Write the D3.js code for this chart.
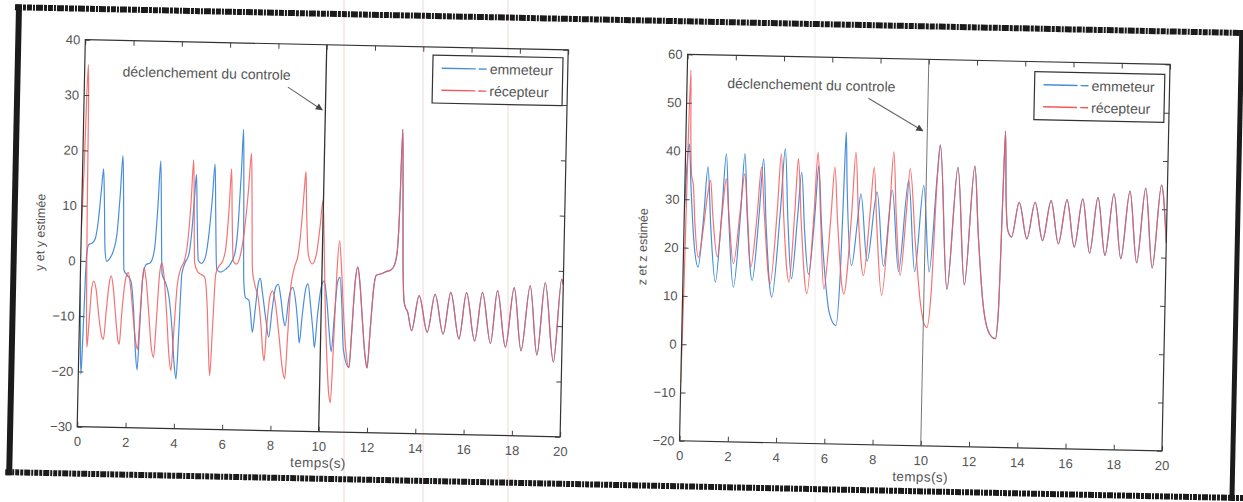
<!DOCTYPE html>
<html>
<head>
<meta charset="utf-8">
<script src="https://cdn.jsdelivr.net/npm/d3@7"></script>
<style>
  body { margin: 0; background: #fff; }
  svg { display: block; }
  text { font-family: "Liberation Sans", Arial, sans-serif; fill: #555; }
</style>
</head>
<body>
<svg id="fig" width="1243" height="502"></svg>
<script>
// ---- data ----
var timeTicks = [0, 2, 4, 6, 8, 10, 12, 14, 16, 18, 20];
var yTicks = [-30, -20, -10, 0, 10, 20, 30, 40];
var zTicks = [-20, -10, 0, 10, 20, 30, 40, 50, 60];
var legendLabels = ["emmeteur", "récepteur"];
var controlTime = 10;
var controlLabel = "déclenchement du controle";

// y : emitter before the two curves merge
var yEmitter = [[0,-4],[0.05,-13],[0.11,-20.5],[0.17,-11],[0.24,1],[0.32,3],[0.45,3.2],[0.58,4],[0.7,7.5],[0.8,13],[0.87,16.7],[0.93,11],[1,2],[1.08,0],[1.2,0.5],[1.35,2],[1.48,5],[1.58,12],[1.66,19.2],[1.72,12],[1.8,-1.5],[1.95,-2.5],[2.1,-3.5],[2.22,-8],[2.34,-16],[2.43,-19.5],[2.5,-12],[2.58,-3],[2.7,-0.5],[2.9,0],[3.05,2.5],[3.15,10],[3.23,18.4],[3.3,9],[3.38,-2],[3.52,-3.5],[3.68,-6],[3.84,-12],[3.96,-18.5],[4.05,-21],[4.12,-13],[4.2,-2],[4.32,0],[4.47,1.5],[4.58,6],[4.66,12],[4.72,16.1],[4.78,9],[4.87,0.5],[5,0],[5.15,1],[5.28,5],[5.4,12],[5.48,18],[5.55,9],[5.64,-1],[5.8,-1.5],[6,-1],[6.2,0],[6.38,2],[6.5,8],[6.58,17],[6.63,24.4],[6.69,14],[6.77,-3],[6.85,-6],[7,-6.5],[7.08,-9],[7.17,-12.3],[7.27,-8],[7.37,-3.5],[7.45,-2.5],[7.55,-5],[7.72,-10],[7.85,-13.1],[7.97,-8],[8.1,-4],[8.2,-3.5],[8.32,-6],[8.45,-10],[8.52,-11],[8.65,-6],[8.8,-4],[8.95,-7],[9.05,-11],[9.12,-14],[9.22,-9],[9.35,-4],[9.43,-3.3],[9.55,-7],[9.68,-12],[9.75,-14.8],[9.85,-9],[10,-3.5],[10.1,-2.7],[10.22,-6],[10.35,-12],[10.45,-15.5],[10.55,-9],[10.65,-3],[10.75,-2],[10.85,-7],[10.95,-15]];
// y : receiver before the merge
var yReceiver = [[0,5],[0.06,16],[0.11,30],[0.15,35.5],[0.19,28],[0.23,8],[0.28,-8],[0.33,-15.6],[0.4,-11],[0.48,-5],[0.56,-3.6],[0.66,-5],[0.8,-10],[0.93,-13.5],[1.01,-14.1],[1.1,-9],[1.2,-4],[1.28,-2.6],[1.38,-5],[1.52,-11],[1.62,-14.5],[1.67,-14.9],[1.75,-9],[1.88,-3],[1.98,-1.9],[2.1,-5],[2.25,-11],[2.37,-15],[2.43,-15.8],[2.5,-10],[2.58,-3],[2.63,-1],[2.72,-3],[2.88,-10],[3,-15.5],[3.1,-17.2],[3.18,-11],[3.28,-2],[3.36,0],[3.45,-2],[3.6,-9],[3.74,-17],[3.83,-19.5],[3.92,-12],[4.02,-4],[4.15,-1],[4.3,0.5],[4.42,4],[4.52,11],[4.59,18.7],[4.65,11],[4.72,0],[4.85,-1.5],[5,-2],[5.15,-2.5],[5.28,-8],[5.37,-16],[5.44,-20.3],[5.52,-11],[5.6,-2],[5.72,-0.5],[5.88,0.5],[6,3],[6.1,10],[6.17,17.2],[6.23,9],[6.32,0.5],[6.45,0],[6.6,1.5],[6.75,6],[6.88,13],[6.98,20.1],[7.04,12],[7.12,-1],[7.22,-3.5],[7.38,-6],[7.52,-11],[7.62,-16],[7.68,-17.4],[7.76,-11],[7.88,-5.5],[7.97,-4.7],[8.1,-7],[8.28,-13],[8.45,-19],[8.55,-20.6],[8.63,-13],[8.72,-4],[8.85,-0.5],[9,2],[9.12,8],[9.2,14],[9.25,17],[9.31,10],[9.42,2],[9.59,0.3],[9.75,2],[9.88,7],[9.98,11.8],[10.05,6],[10.15,-6],[10.28,-17],[10.38,-23],[10.46,-24.7],[10.54,-14],[10.62,-1],[10.7,4.6],[10.8,0],[10.92,-8],[11.05,-15]];
// y : both curves once synchronised
var ySynced = [[11.2,-18.3],[11.28,-12],[11.38,-3],[11.48,-0.1],[11.58,-3],[11.72,-10],[11.85,-16],[11.95,-18.3],[12.05,-11],[12.15,-4],[12.25,-1.5],[12.45,-1.2],[12.65,-0.8],[12.85,-0.5],[13,0.5],[13.1,3],[13.16,10],[13.22,25],[13.28,15],[13.34,2],[13.42,-6],[13.47,-7],[13.58,-8],[13.76,-11.4],[14.04,-5],[14.41,-11.6],[14.7,-4.7],[15.07,-11.9],[15.35,-4.3],[15.73,-12.7],[16,-4.3],[16.38,-13],[16.66,-4.2],[17.04,-13.4],[17.28,-3.8],[17.66,-14],[17.97,-3.2],[18.31,-14.6],[18.63,-2.8],[18.97,-15.3],[19.25,-2.2],[19.66,-16.5],[19.93,-1.5],[20,-2.5]];

// z : emitter before the merge
var zEmitter = [[0,28],[0.07,37],[0.15,41.5],[0.25,33],[0.45,20],[0.62,16],[0.8,26],[0.94,36.8],[1.1,25],[1.35,13],[1.55,27],[1.69,39.6],[1.85,26],[2.1,12],[2.33,27],[2.46,39.7],[2.62,26],[2.87,13.5],[3.1,27],[3.24,38.7],[3.4,25],[3.7,10.1],[3.98,28],[4.13,40.9],[4.3,26],[4.5,14],[4.7,27],[4.83,36.1],[5,24],[5.2,15],[5.42,28],[5.53,37.5],[5.7,25],[5.9,14],[6.1,7],[6.38,4.5],[6.52,16],[6.6,36],[6.64,44.6],[6.72,34],[6.98,17],[7.18,26],[7.3,31.9],[7.62,18],[7.97,32.3],[8.3,17],[8.6,32.8],[8.93,16],[9.27,34.9],[9.6,16],[9.9,33.9],[10.2,16],[10.45,36]];
// z : receiver before the merge
var zReceiver = [[0,-8],[0.05,12],[0.1,42],[0.15,56.7],[0.2,44],[0.27,35],[0.35,33],[0.45,25],[0.62,18],[0.8,24],[0.95,31],[1.06,34],[1.18,27],[1.41,18.2],[1.58,28],[1.71,34.4],[1.85,27],[2.08,16.9],[2.32,28],[2.47,35.5],[2.62,27],[2.8,16.2],[3.02,27],[3.16,37],[3.32,27],[3.62,12.9],[3.85,28],[3.97,39.8],[4.12,27],[4.4,13.3],[4.58,28],[4.68,38.9],[4.85,26],[5.15,11],[5.38,28],[5.49,40.3],[5.65,27],[5.85,12],[6.08,27],[6.2,37.3],[6.36,26],[6.68,11.1],[6.94,28],[7.06,40.5],[7.22,27],[7.48,15],[7.7,28],[7.83,37.5],[7.98,26],[8.25,11],[8.5,28],[8.63,40.7],[8.78,28],[9,15.2],[9.2,28],[9.32,37.3],[9.6,22],[9.85,10],[10.05,5],[10.15,4.5],[10.3,12],[10.45,35]];
// z : both curves once synchronised
var zSynced = [[10.55,42.3],[10.95,12.5],[11.3,37.8],[11.67,13.5],[12,38.1],[12.2,24],[12.45,10],[12.75,3.5],[13,2.5],[13.1,8],[13.18,30],[13.24,45.5],[13.32,32],[13.42,25],[13.58,23.6],[13.87,30.8],[14.22,23.3],[14.53,30.9],[14.87,23],[15.19,31.3],[15.53,22.4],[15.85,31.6],[16.19,21.8],[16.5,31.8],[16.83,20.6],[17.13,32.2],[17.47,20.2],[17.79,33],[18.13,19.6],[18.45,33.6],[18.79,18.8],[19.1,34.3],[19.44,17.8],[19.75,35],[20,23]];

// ---- drawing ----
var svg = d3.select("#fig");
var blue = "#4a8edb", red = "#f25a5a";
var font = '"Liberation Sans", Arial, sans-serif';

svg.append("defs").append("marker")
    .attr("id", "head")
    .attr("viewBox", "0 0 10 10")
    .attr("refX", 9).attr("refY", 5)
    .attr("markerWidth", 9).attr("markerHeight", 7)
    .attr("markerUnits", "userSpaceOnUse")
    .attr("orient", "auto")
  .append("path")
    .attr("d", "M0,0L10,5L0,10z")
    .attr("fill", "#444");

// faint scanner streaks (not tilted with the page)
[[344, "#f3d6d6"], [423, "#f3d6d6"], [508, "#f3d6d6"], [815, "#ececec"]].forEach(function(s) {
  svg.append("line")
    .attr("x1", s[0]).attr("x2", s[0]).attr("y1", 0).attr("y2", 502)
    .attr("stroke", s[1]).attr("stroke-width", 1);
});

// the scanned page is slightly tilted
var page = svg.append("g").attr("transform", "rotate(1.2,621,251)");

// thick scan border
var band = "#1b1b1b";
page.append("line").attr("x1", 10).attr("x2", 1260).attr("y1", 20).attr("y2", 20)
  .attr("stroke", band).attr("stroke-width", 6).attr("stroke-dasharray", "7,1,3,1,5,1,2,1");
page.append("line").attr("x1", 10).attr("x2", 1260).attr("y1", 485).attr("y2", 485)
  .attr("stroke", band).attr("stroke-width", 6).attr("stroke-dasharray", "6,1,2,1,4,1,3,1");
page.append("line").attr("x1", 14).attr("x2", 14).attr("y1", 17).attr("y2", 488)
  .attr("stroke", band).attr("stroke-width", 6);
page.append("line").attr("x1", 1237).attr("x2", 1237).attr("y1", 17).attr("y2", 488)
  .attr("stroke", band).attr("stroke-width", 5);

function drawPanel(cfg) {
  var g = page.append("g");

  var x = d3.scaleLinear().domain([0, 20]).range([cfg.left, cfg.right]);
  var y = d3.scaleLinear().domain(cfg.domain).range([cfg.bottom, cfg.top]);

  g.append("clipPath").attr("id", cfg.id)
    .append("rect")
      .attr("x", cfg.left).attr("y", cfg.top)
      .attr("width", cfg.right - cfg.left).attr("height", cfg.bottom - cfg.top);

  var line = d3.line()
    .x(function(d) { return x(d[0]); })
    .y(function(d) { return y(d[1]); })
    .curve(d3.curveMonotoneX);

  var plot = g.append("g").attr("clip-path", "url(#" + cfg.id + ")");

  plot.append("path")
    .attr("d", line(cfg.emitter.concat(cfg.synced)))
    .attr("fill", "none").attr("stroke", blue).attr("stroke-width", 1.2);

  plot.append("path")
    .attr("d", line(cfg.receiver.concat(cfg.synced)))
    .attr("fill", "none").attr("stroke", red).attr("stroke-width", 1.2)
    .attr("stroke-opacity", 0.85);

  // moment the control is switched on
  g.append("line")
    .attr("x1", x(controlTime)).attr("x2", x(controlTime))
    .attr("y1", cfg.top).attr("y2", cfg.bottom)
    .attr("stroke", cfg.controlColor).attr("stroke-width", cfg.controlWidth);

  // axes, MATLAB style: ticks inside, box all round
  var bottom = g.append("g")
    .attr("transform", "translate(0," + cfg.bottom + ")")
    .call(d3.axisBottom(x).tickValues(timeTicks).tickSizeInner(-5).tickSizeOuter(0).tickPadding(10));
  var left = g.append("g")
    .attr("transform", "translate(" + cfg.left + ",0)")
    .call(d3.axisLeft(y).tickValues(cfg.ticks).tickSizeInner(-5).tickSizeOuter(0).tickPadding(5));
  g.append("g")
    .attr("transform", "translate(0," + cfg.top + ")")
    .call(d3.axisTop(x).tickValues(timeTicks).tickSizeInner(-5).tickSizeOuter(0).tickFormat(""));
  g.append("g")
    .attr("transform", "translate(" + cfg.right + ",0)")
    .call(d3.axisRight(y).tickValues(cfg.ticks).tickSizeInner(-5).tickSizeOuter(0).tickFormat(""));

  g.selectAll(".domain").remove();
  g.selectAll(".tick line").attr("stroke", "#444");
  [bottom, left].forEach(function(a) {
    a.selectAll("text")
      .attr("font-family", font).attr("font-size", 13).attr("fill", "#555");
  });

  g.append("rect")
    .attr("x", cfg.left).attr("y", cfg.top)
    .attr("width", cfg.right - cfg.left).attr("height", cfg.bottom - cfg.top)
    .attr("fill", "none").attr("stroke", "#333").attr("stroke-width", 1.2);

  // axis titles
  g.append("text")
    .attr("x", (cfg.left + cfg.right) / 2).attr("y", cfg.bottom + 31)
    .attr("dy", "0.35em").attr("text-anchor", "middle")
    .attr("font-size", 13.5).attr("letter-spacing", 0.4)
    .text("temps(s)");

  g.append("text")
    .attr("transform", "translate(" + (cfg.left - 41) + "," + ((cfg.top + cfg.bottom) / 2) + ") rotate(-90)")
    .attr("dy", "0.35em").attr("text-anchor", "middle")
    .attr("font-size", 12.5)
    .text(cfg.yLabel);

  // annotation
  g.append("text")
    .attr("x", x(cfg.note[0])).attr("y", y(cfg.note[1]))
    .attr("dy", "0.35em")
    .attr("font-size", 14)
    .text(controlLabel);

  g.append("line")
    .attr("x1", x(cfg.arrow[0])).attr("y1", y(cfg.arrow[1]))
    .attr("x2", x(cfg.arrow[2])).attr("y2", y(cfg.arrow[3]))
    .attr("stroke", "#666").attr("stroke-width", 1.1)
    .attr("marker-end", "url(#head)");

  // legend
  var lg = g.append("g")
    .attr("transform", "translate(" + (cfg.right - 135) + "," + (cfg.top + cfg.legendTop) + ")");
  lg.append("rect")
    .attr("width", 130).attr("height", 48)
    .attr("fill", "#fff").attr("stroke", "#333").attr("stroke-width", 1.2);
  var rows = lg.selectAll(".row")
    .data(legendLabels)
    .enter().append("g")
      .attr("transform", function(d, i) { return "translate(0," + (13 + i * 22) + ")"; });
  rows.append("line")
    .attr("x1", 9).attr("x2", 54)
    .attr("stroke", function(d, i) { return i === 0 ? blue : red; })
    .attr("stroke-width", 1.4)
    .attr("stroke-dasharray", "34,3,8");
  rows.append("text")
    .attr("x", 57).attr("dy", "0.35em")
    .attr("font-size", 14)
    .text(function(d) { return d; });
}

drawPanel({
  id: "clipY", left: 81, right: 564, top: 51, bottom: 438,
  domain: [-30, 40], ticks: yTicks, yLabel: "y et y estimée",
  emitter: yEmitter, receiver: yReceiver, synced: ySynced,
  note: [1.57, 34.4], arrow: [8.43, 32.2, 9.87, 28.2],
  controlColor: "#333", controlWidth: 1.3, legendTop: 8
});

drawPanel({
  id: "clipZ", left: 683.5, right: 1166, top: 53, bottom: 439.5,
  domain: [-20, 60], ticks: zTicks, yLabel: "z et z estimée",
  emitter: zEmitter, receiver: zReceiver, synced: zSynced,
  note: [1.67, 54.2], arrow: [7.53, 51.7, 9.81, 45.2],
  controlColor: "#777", controlWidth: 1, legendTop: 10
});
</script>
</body>
</html>
